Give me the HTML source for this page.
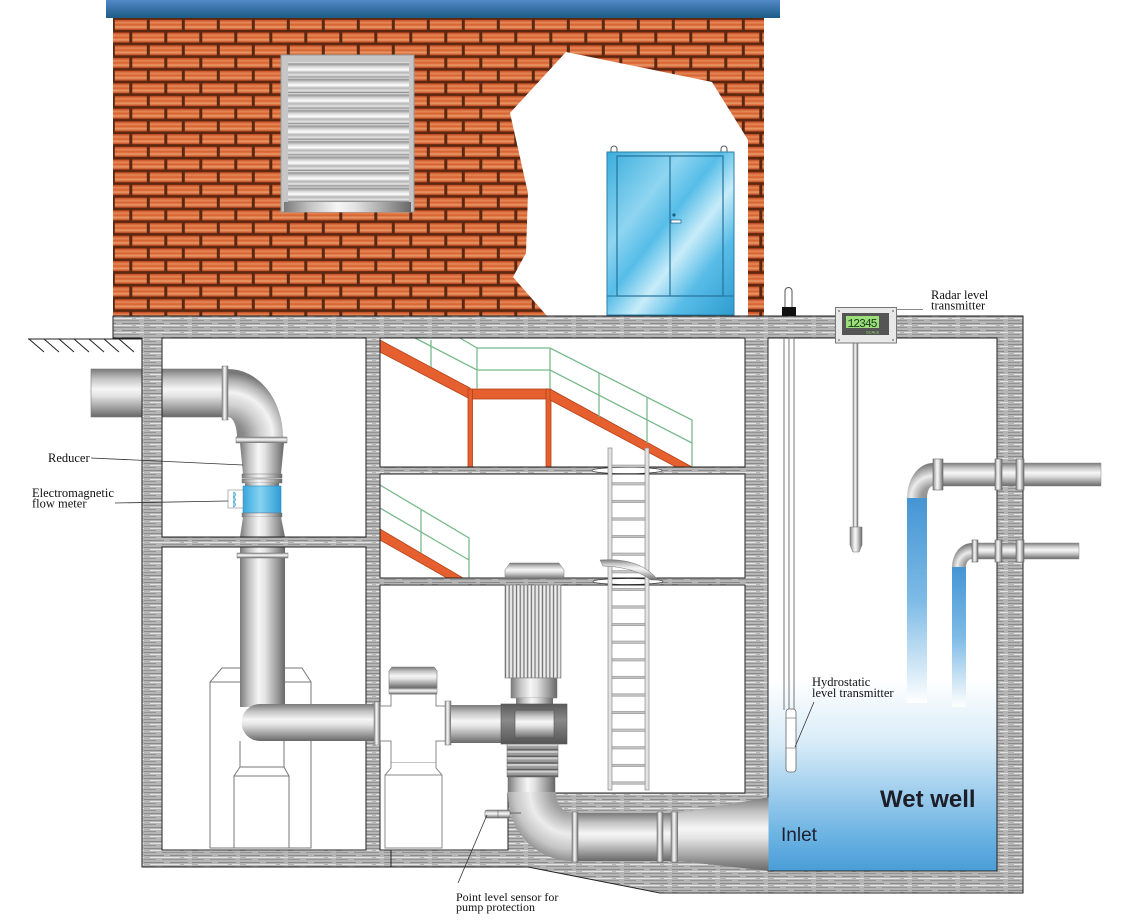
<!DOCTYPE html>
<html><head><meta charset="utf-8"><style>
html,body{margin:0;padding:0;background:#fff;}
svg{display:block;}
.s{font-family:"Liberation Serif",serif;fill:#111;}
</style></head><body>
<svg width="1135" height="921" viewBox="0 0 1135 921" xmlns="http://www.w3.org/2000/svg">
<defs>
 <linearGradient id="roof" x1="0" y1="0" x2="0" y2="1"><stop offset="0" stop-color="#5289c8"/><stop offset="1" stop-color="#1c5c86"/></linearGradient>
 <linearGradient id="bg" x1="0" y1="0" x2="0" y2="1"><stop offset="0" stop-color="#c8461f"/><stop offset=".28" stop-color="#e48a58"/><stop offset=".5" stop-color="#d85e2d"/><stop offset=".72" stop-color="#e99c6a"/><stop offset="1" stop-color="#c2431d"/></linearGradient>
 <pattern id="brick" x="113" y="18" width="35" height="25.4" patternUnits="userSpaceOnUse">
  <rect width="35" height="25.4" fill="#5a2810"/>
  <rect x="1.8" y="1.8" width="32" height="10.1" fill="url(#bg)"/>
  <rect x="-15.7" y="14.5" width="32" height="10.1" fill="url(#bg)"/>
  <rect x="19.3" y="14.5" width="32" height="10.1" fill="url(#bg)"/>
 </pattern>
 <pattern id="conc" width="48" height="7" patternUnits="userSpaceOnUse">
  <rect width="48" height="7" fill="#b5b5b5"/>
  <path d="M0 1.5h20M26 1.5h18" stroke="#8a8a8a" stroke-width="1"/>
  <path d="M6 3.5h30M40 3.5h8" stroke="#e4e4e4" stroke-width="1"/>
  <path d="M0 5.5h12M18 5.5h25" stroke="#949494" stroke-width="1"/>
 </pattern>
 <linearGradient id="slatg" x1="0" y1="0" x2="0" y2="1"><stop offset="0" stop-color="#f4f4f4"/><stop offset=".12" stop-color="#959595"/><stop offset=".3" stop-color="#d6d6d6"/><stop offset=".5" stop-color="#fff"/><stop offset=".68" stop-color="#b5b5b5"/><stop offset=".85" stop-color="#e8e8e8"/><stop offset="1" stop-color="#7c7c7c"/></linearGradient>
 <pattern id="slat" x="288" y="62" width="121" height="15.56" patternUnits="userSpaceOnUse"><rect width="121" height="15.56" fill="url(#slatg)"/></pattern>
 <linearGradient id="cab" x1="0" y1="0" x2="1" y2="1"><stop offset="0" stop-color="#3aaedc"/><stop offset=".3" stop-color="#8fd5f1"/><stop offset=".45" stop-color="#56bde8"/><stop offset=".6" stop-color="#c8ecf9"/><stop offset=".76" stop-color="#58bce7"/><stop offset="1" stop-color="#2e9cd0"/></linearGradient>
 <linearGradient id="mh" x1="0" y1="0" x2="0" y2="1"><stop offset="0" stop-color="#7a7a7a"/><stop offset=".2" stop-color="#c2c2c2"/><stop offset=".42" stop-color="#f6f6f6"/><stop offset=".56" stop-color="#e3e3e3"/><stop offset=".8" stop-color="#a2a2a2"/><stop offset="1" stop-color="#686868"/></linearGradient>
 <linearGradient id="mv" x1="0" y1="0" x2="1" y2="0"><stop offset="0" stop-color="#7a7a7a"/><stop offset=".2" stop-color="#c2c2c2"/><stop offset=".42" stop-color="#f6f6f6"/><stop offset=".56" stop-color="#e3e3e3"/><stop offset=".8" stop-color="#a2a2a2"/><stop offset="1" stop-color="#686868"/></linearGradient>
 <linearGradient id="dark" x1="0" y1="0" x2="0" y2="1"><stop offset="0" stop-color="#5a5a5a"/><stop offset=".4" stop-color="#8a8a8a"/><stop offset="1" stop-color="#555"/></linearGradient>
 <radialGradient id="el1" gradientUnits="userSpaceOnUse" cx="228" cy="437" r="64"><stop offset="0" stop-color="#777"/><stop offset=".25" stop-color="#8c8c8c"/><stop offset=".5" stop-color="#cfcfcf"/><stop offset=".7" stop-color="#f2f2f2"/><stop offset=".88" stop-color="#b0b0b0"/><stop offset="1" stop-color="#787878"/></radialGradient>
 <radialGradient id="el2" gradientUnits="userSpaceOnUse" cx="572" cy="792" r="70"><stop offset="0" stop-color="#888"/><stop offset=".3" stop-color="#a0a0a0"/><stop offset=".6" stop-color="#ececec"/><stop offset=".82" stop-color="#c6c6c6"/><stop offset="1" stop-color="#8a8a8a"/></radialGradient>
 <radialGradient id="el3" gradientUnits="userSpaceOnUse" cx="933" cy="498" r="34"><stop offset="0" stop-color="#888"/><stop offset=".35" stop-color="#9c9c9c"/><stop offset=".65" stop-color="#ececec"/><stop offset="1" stop-color="#7a7a7a"/></radialGradient>
 <radialGradient id="el4" gradientUnits="userSpaceOnUse" cx="972" cy="567" r="23"><stop offset="0" stop-color="#888"/><stop offset=".35" stop-color="#9c9c9c"/><stop offset=".65" stop-color="#ececec"/><stop offset="1" stop-color="#7a7a7a"/></radialGradient>
 <linearGradient id="water" gradientUnits="userSpaceOnUse" x1="0" y1="338" x2="0" y2="871"><stop offset=".64" stop-color="#ffffff"/><stop offset=".76" stop-color="#d8ecf8"/><stop offset=".86" stop-color="#9acbec"/><stop offset=".93" stop-color="#6db4e3"/><stop offset="1" stop-color="#4a9dd8"/></linearGradient>
 <linearGradient id="stream" x1="0" y1="0" x2="0" y2="1"><stop offset="0" stop-color="#4595d4"/><stop offset=".5" stop-color="#7dbbe6"/><stop offset="1" stop-color="#ffffff"/></linearGradient>
 <linearGradient id="meter" x1="0" y1="0" x2="1" y2="0"><stop offset="0" stop-color="#36a6dc"/><stop offset=".45" stop-color="#86d4f3"/><stop offset="1" stop-color="#2f9bd3"/></linearGradient>
 <pattern id="fins" x="505" y="0" width="3.7" height="10" patternUnits="userSpaceOnUse"><rect width="3.7" height="10" fill="#d2d2d2"/><rect width="0.9" height="10" fill="#6c6c6c"/><rect x="1.8" width="1" height="10" fill="#f4f4f4"/></pattern>
 <pattern id="bell" x="0" y="744" width="10" height="6.6" patternUnits="userSpaceOnUse"><rect width="10" height="6.6" fill="#9a9a9a"/><rect width="10" height="2.2" fill="#cfcfcf"/><rect y="5" width="10" height="1.6" fill="#5e5e5e"/></pattern>
</defs>

<!-- building -->
<rect x="106" y="0" width="674" height="18" fill="url(#roof)"/>
<rect x="113" y="18" width="651" height="298" fill="url(#brick)"/>
<polygon points="510,113 566,52 712,82 748,140 748,316 547,316 513,277 526,253 528,193" fill="#fff"/>
<!-- vent -->
<rect x="281" y="55" width="133" height="157" fill="#c6c6c6" stroke="#9a9a9a"/>
<rect x="288" y="62" width="121" height="140" fill="url(#slat)"/>
<rect x="284" y="202" width="127" height="10" fill="url(#mv)"/>
<!-- cabinet -->
<path d="M611,152 v-3 a3,3 0 0 1 6,0 v3 M721,152 v-3 a3,3 0 0 1 6,0 v3" stroke="#555" fill="none" stroke-width="1"/>
<rect x="607" y="152" width="127" height="163" fill="url(#cab)" stroke="#2b7ea6"/>
<rect x="617" y="156" width="106" height="140" fill="none" stroke="#25729a" stroke-width="1.2"/>
<line x1="670" y1="156" x2="670" y2="296" stroke="#25729a" stroke-width="1.2"/>
<line x1="607" y1="296" x2="734" y2="296" stroke="#25729a"/>
<circle cx="674" cy="215" r="1.6" fill="#1d5f80"/>
<rect x="671" y="220" width="10" height="3" fill="#fff" stroke="#1d5f80" stroke-width=".7"/>

<!-- left outer pipe (behind wall) -->
<rect x="91" y="369" width="132" height="48" fill="url(#mh)" stroke="#777" stroke-width=".6"/>

<!-- left lower outline equipment -->
<g fill="#fff" stroke="#777" stroke-width="1">
 <path d="M210,848 V682 L222,668 H302 L311,682 V848 Z"/>
 <path d="M210,682 H311"/>
 <path d="M240,741 V767 L234,776 V848 H289 V776 L284,767 V741"/>
 <path d="M234,776 H289 M240,767 H284"/>
</g>
<!-- vertical pipe left room -->
<rect x="240" y="547" width="45" height="160" fill="url(#mv)"/>
<rect x="237" y="553" width="51" height="5" fill="url(#mh)" stroke="#777" stroke-width=".5"/>
<!-- upper elbow & reducer & meter -->
<path d="M222,369 L228,369 A55 68 0 0 1 283,437 L237,437 A9 20 0 0 0 228,417 L222,417 Z" fill="url(#el1)"/>
<rect x="222" y="366" width="6" height="54" fill="url(#mv)" stroke="#777" stroke-width=".5"/>
<rect x="236" y="437" width="51" height="6" fill="url(#mh)" stroke="#777" stroke-width=".5"/>
<polygon points="240,443 284,443 281,474 243,474" fill="url(#mv)"/>
<rect x="242" y="474" width="40" height="4" fill="url(#mv)" stroke="#777" stroke-width=".5"/>
<rect x="242" y="479" width="40" height="4" fill="url(#mv)" stroke="#777" stroke-width=".5"/>
<rect x="245" y="483" width="34" height="3" fill="url(#mv)"/>
<rect x="243" y="486" width="38" height="27" fill="url(#meter)" stroke="#2a8cc0" stroke-width=".6"/>
<rect x="228" y="490" width="15" height="18" fill="#fff" stroke="#888" stroke-width=".6"/>
<path d="M233,492 a2.5,2.5 0 0 1 0,5 a2.5,2.5 0 0 1 0,5 a2.5,2.5 0 0 1 0,5" fill="#8fd0ee" stroke="#3a8fbf" stroke-width=".6"/>
<rect x="242" y="513" width="40" height="4" fill="url(#mv)" stroke="#777" stroke-width=".5"/>
<polygon points="243,517 281,517 285,537 240,537" fill="url(#mv)"/>

<!-- stairs upper -->
<g fill="#e5602e" stroke="#b2421a" stroke-width=".8">
 <polygon points="380,340 470,388 470,399 380,352"/>
 <rect x="470" y="389" width="80" height="10"/>
 <rect x="468" y="389" width="4.5" height="78"/>
 <rect x="546" y="389" width="5" height="78"/>
 <polygon points="550,389 692,467 676,467 550,400"/>
 <polygon points="380,529 463,578 447,578 380,540"/>
</g>
<g stroke="#79b98b" stroke-width="1.3" fill="none">
 <path d="M460,338 L477,348 H550 L692,420 V467"/>
 <path d="M415,338 L477,370 H550 L692,443"/>
 <path d="M477,348 V389 M550,348 V389 M431,340 V367 M599,373 V417 M647,397 V443"/>
 <path d="M380,485 L469,538 V578 M380,508 L469,560 M421,509 V553"/>
</g>

<!-- concrete structure -->
<path fill-rule="evenodd" fill="url(#conc)" stroke="#222" stroke-width="1" d="M113,316 H1023 V893 H660 L528,867 H142 V338 H113 Z M162,338 H366 V537 H162 Z M162,547 H366 V850 H162 Z M380,338 H745 V467 H380 Z M380,474 H745 V578 H380 Z M380,585 H745 V793 H508 V850 H380 Z M768,338 H997 V871 H768 Z"/>
<line x1="391" y1="850" x2="391" y2="867" stroke="#222"/>
<!-- ground hatch -->
<g stroke="#222" stroke-width="1">
 <line x1="28" y1="339" x2="142" y2="339"/>
 <line x1="29" y1="339" x2="44" y2="352"/><line x1="44" y1="339" x2="59" y2="352"/><line x1="59" y1="339" x2="74" y2="352"/><line x1="74" y1="339" x2="89" y2="352"/><line x1="89" y1="339" x2="104" y2="352"/><line x1="104" y1="339" x2="119" y2="352"/><line x1="119" y1="339" x2="134" y2="352"/>
</g>

<!-- hatch openings & ladder -->
<ellipse cx="627" cy="470.5" rx="35" ry="3.2" fill="#fff" stroke="#333" stroke-width=".8"/>
<ellipse cx="628" cy="581.5" rx="35" ry="3" fill="#fff" stroke="#333" stroke-width=".8"/>
<g>
 <rect x="608" y="448" width="4" height="342" fill="#e2e2e2" stroke="#8a8a8a" stroke-width=".7"/>
 <rect x="645" y="448" width="4" height="342" fill="#e2e2e2" stroke="#8a8a8a" stroke-width=".7"/>
 <g fill="#c4c4c4" stroke="#888" stroke-width=".5">
  <rect x="612" y="465" width="33" height="2.4"/><rect x="612" y="482.6" width="33" height="2.4"/><rect x="612" y="500.2" width="33" height="2.4"/><rect x="612" y="517.8" width="33" height="2.4"/><rect x="612" y="535.4" width="33" height="2.4"/><rect x="612" y="553" width="33" height="2.4"/><rect x="612" y="570.6" width="33" height="2.4"/><rect x="612" y="588.2" width="33" height="2.4"/><rect x="612" y="605.8" width="33" height="2.4"/><rect x="612" y="623.4" width="33" height="2.4"/><rect x="612" y="641" width="33" height="2.4"/><rect x="612" y="658.6" width="33" height="2.4"/><rect x="612" y="676.2" width="33" height="2.4"/><rect x="612" y="693.8" width="33" height="2.4"/><rect x="612" y="711.4" width="33" height="2.4"/><rect x="612" y="729" width="33" height="2.4"/><rect x="612" y="746.6" width="33" height="2.4"/><rect x="612" y="764.2" width="33" height="2.4"/><rect x="612" y="781.8" width="33" height="2.4"/>
 </g>
</g>
<path d="M600,560 Q640,557 658,580 L651,580 Q634,567 603,566 Z" fill="url(#mh)" stroke="#777" stroke-width=".5"/>

<!-- valve outline -->
<g fill="#fff" stroke="#888" stroke-width="1">
 <path d="M391,694 H436 V706 H447 V741 H436 V763 H391 V741 H380 V706 H391 Z"/>
 <path d="M391,763 V768 L385,775 V848 H442 V775 L436,768 V763"/>
 <path d="M385,775 H442"/>
</g>
<path d="M392,667 H434 L437,671 V688 H389 V671 Z" fill="url(#mh)" stroke="#777" stroke-width=".6"/>
<rect x="389" y="688" width="48" height="6" fill="url(#mh)" stroke="#777" stroke-width=".5"/>
<!-- lower-left horizontal pipe -->
<path d="M374,704 L260,704 A18.5 18.5 0 0 0 260,741 L374,741 Z" fill="url(#mh)"/>
<rect x="374" y="702" width="6" height="43" fill="url(#mv)" stroke="#777" stroke-width=".5"/>
<rect x="445" y="701" width="6" height="44" fill="url(#mv)" stroke="#777" stroke-width=".5"/>
<rect x="451" y="705" width="50" height="38" fill="url(#mh)"/>

<!-- pump & motor -->
<path d="M510,563 H559 L564,570 V579 H505 V570 Z" fill="url(#mh)" stroke="#777" stroke-width=".5"/>
<rect x="505" y="585" width="56" height="93" fill="url(#fins)" stroke="#777" stroke-width=".6"/>
<rect x="511" y="678" width="46" height="20" fill="url(#mv)" stroke="#777" stroke-width=".5"/>
<rect x="516" y="698" width="37" height="7" fill="url(#mv)"/>
<rect x="501" y="704" width="66" height="40" fill="url(#dark)" stroke="#555" stroke-width=".6"/>
<rect x="515" y="710" width="39" height="28" fill="url(#mh)" stroke="#555" stroke-width=".6"/>
<rect x="507" y="744" width="51" height="33" fill="url(#bell)" stroke="#666" stroke-width=".5"/>
<rect x="508" y="777" width="47" height="16" fill="url(#mv)" stroke="#666" stroke-width=".5"/>
<!-- inlet elbow/pipe/cone -->
<path d="M508,792 L556,792 A16 21 0 0 0 572,813 L572,861 A64 66 0 0 1 508,795 Z" fill="url(#el2)"/>
<rect x="572" y="813" width="106" height="48" fill="url(#mh)"/>
<rect x="572" y="812" width="6" height="50" fill="url(#mv)" stroke="#666" stroke-width=".5"/>
<rect x="657" y="812" width="6" height="50" fill="url(#mv)" stroke="#666" stroke-width=".5"/>
<rect x="671" y="812" width="7" height="50" fill="url(#mv)" stroke="#666" stroke-width=".5"/>
<polygon points="678,813 770,797 770,871 678,861" fill="url(#mh)"/>
<!-- point level sensor -->
<rect x="485" y="810" width="25" height="8" rx="2" fill="url(#mh)" stroke="#666" stroke-width=".6"/>
<line x1="510" y1="813" x2="521" y2="813" stroke="#666" stroke-width="1"/>
<line x1="498" y1="810" x2="498" y2="818" stroke="#666" stroke-width=".6"/>

<!-- wet well -->
<rect x="768.5" y="338.5" width="228" height="532" fill="url(#water)"/>
<rect x="907" y="498" width="20" height="205" fill="url(#stream)"/>
<rect x="952" y="567" width="14" height="140" fill="url(#stream)"/>
<!-- pipes in wet well -->
<rect x="933" y="463" width="168" height="23" fill="url(#mh)" stroke="#888" stroke-width=".5"/>
<path d="M933,463 A26 35 0 0 0 907,498 L927,498 A6 12 0 0 1 933,486 Z" fill="url(#el3)"/>
<g fill="url(#mv)" stroke="#666" stroke-width=".6">
 <rect x="933" y="459" width="10" height="31"/>
 <rect x="995" y="459" width="7" height="31"/>
 <rect x="1016" y="459" width="8" height="31"/>
</g>
<rect x="972" y="543" width="107" height="16" fill="url(#mh)" stroke="#888" stroke-width=".5"/>
<path d="M972,543 A20 24 0 0 0 952,567 L966,567 A6 8 0 0 1 972,559 Z" fill="url(#el4)"/>
<g fill="url(#mv)" stroke="#666" stroke-width=".6">
 <rect x="972" y="540" width="6" height="22"/>
 <rect x="995" y="540" width="7" height="22"/>
 <rect x="1016" y="540" width="8" height="22"/>
</g>
<!-- hydrostatic -->
<path d="M785,307 V291 a3.5,3.5 0 0 1 7,0 V307" fill="#fff" stroke="#555" stroke-width="1"/>
<rect x="782" y="307" width="14" height="9" fill="#111"/>
<g stroke="#777" stroke-width="1">
 <line x1="784" y1="338" x2="784" y2="710"/><line x1="789" y1="338" x2="789" y2="710"/><line x1="794" y1="338" x2="794" y2="710"/>
</g>
<rect x="786" y="709" width="10" height="63" rx="3" fill="#fff" stroke="#666" stroke-width=".8"/>
<line x1="786" y1="718" x2="796" y2="718" stroke="#666" stroke-width=".6"/>
<line x1="786" y1="748" x2="796" y2="748" stroke="#666" stroke-width=".6"/>
<!-- radar -->
<rect x="853" y="343" width="5" height="184" fill="url(#mv)" stroke="#777" stroke-width=".5"/>
<path d="M850,527 H862 V545 L859,552 H853 L850,545 Z" fill="url(#mv)" stroke="#777" stroke-width=".6"/>
<rect x="835.5" y="307.5" width="61" height="35.5" fill="#e8e8e8" stroke="#777" stroke-width="1"/>
<rect x="842" y="313" width="47" height="22" fill="#555"/>
<rect x="846" y="316" width="33" height="12" fill="#9be07a"/>
<text x="847.5" y="327" font-family="Liberation Mono,monospace" font-size="11.5" fill="#1a3a1a" textLength="30">12345</text>
<text x="866" y="333.5" font-family="Liberation Sans,sans-serif" font-size="4" fill="#9be07a">SCALE</text>
<circle cx="839" cy="311" r="1" fill="#888"/><circle cx="893" cy="311" r="1" fill="#888"/><circle cx="839" cy="340" r="1" fill="#888"/><circle cx="893" cy="340" r="1" fill="#888"/>

<!-- leaders -->
<g stroke="#333" stroke-width=".8" fill="none">
 <line x1="91" y1="458" x2="243" y2="465"/>
 <line x1="115" y1="503" x2="228" y2="501"/>
 <line x1="896" y1="309.5" x2="923" y2="309.5" stroke="#888" stroke-width="1"/>
 <line x1="814" y1="702" x2="795" y2="747"/>
 <line x1="458" y1="883" x2="487" y2="815"/>
</g>
<!-- labels -->
<g class="s" font-size="12.5">
 <text x="48" y="462">Reducer</text>
 <text x="32" y="497">Electromagnetic</text>
 <text x="32" y="507.5">flow meter</text>
 <text x="931" y="299">Radar level</text>
 <text x="931" y="309.5">transmitter</text>
 <text x="812" y="686">Hydrostatic</text>
 <text x="812" y="697">level transmitter</text>
 <text x="456" y="901" font-size="12">Point level sensor for</text>
 <text x="456" y="911" font-size="12">pump protection</text>
</g>
<text x="880" y="807" font-family="Liberation Sans,sans-serif" font-weight="bold" font-size="24" fill="#1e1e28">Wet well</text>
<text x="781" y="841" font-family="Liberation Sans,sans-serif" font-size="19" fill="#1e1e2e">Inlet</text>
</svg>
</body></html>
